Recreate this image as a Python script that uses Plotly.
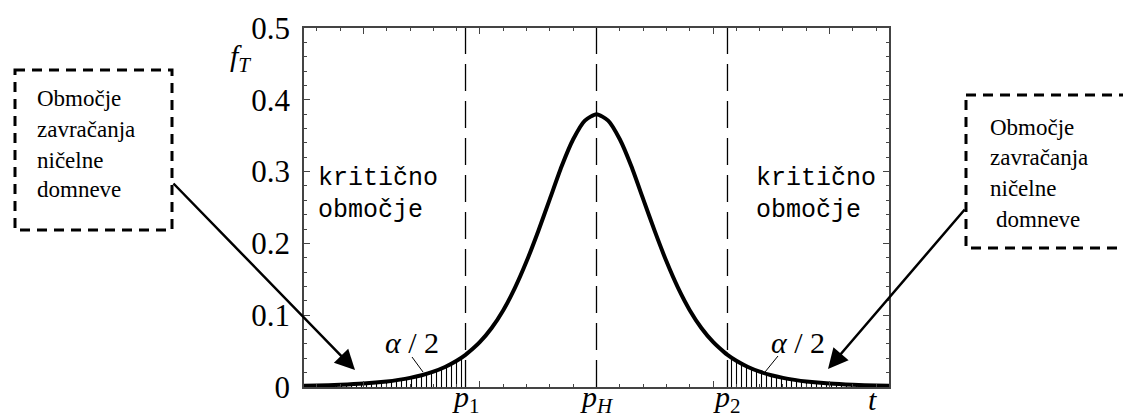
import plotly.graph_objects as go

# ---- data ----
t_vals = [-12.55, -12, -11, -10, -9, -8.5, -8, -7.5, -7, -6.5, -6, -5.62, -5.5, -5, -4.5,
          -4, -3.5, -3, -2.5, -2, -1.5, -1, -0.5, 0,
          0.5, 1, 1.5, 2, 2.5, 3, 3.5, 4, 4.5, 5, 5.5, 5.62, 6, 6.5, 7, 7.5, 8, 8.5, 9,
          10, 11, 12, 12.55]
f_vals = [0.0016, 0.0020, 0.0031, 0.0048, 0.0077, 0.0099, 0.0127, 0.0164, 0.0213, 0.0278,
          0.0365, 0.0448, 0.0479, 0.0628, 0.0822,
          0.107, 0.138, 0.175, 0.217, 0.262, 0.307, 0.345, 0.371, 0.380,
          0.371, 0.345, 0.307, 0.262, 0.217, 0.175, 0.138, 0.107, 0.0822, 0.0628, 0.0479,
          0.0448, 0.0365, 0.0278, 0.0213, 0.0164, 0.0127, 0.0099, 0.0077,
          0.0048, 0.0031, 0.0020, 0.0016]
p_pos = [-5.62, 0, 5.62]
p_labels = ["<i>p</i><sub>1</sub>", "<i>p</i><sub><i>H</i></sub>", "<i>p</i><sub>2</sub>"]
y_ticks = [0, 0.1, 0.2, 0.3, 0.4, 0.5]
y_ticklabels = ["0", "0.1", "0.2", "0.3", "0.4", "0.5"]
x_range = [-12.55, 12.55]
y_range = [0, 0.5]

W, H = 1123, 419
L, R, T, B = 304, 234, 28, 32
PW, PH = W - L - R, H - T - B


def px(x):
    return (x - L) / PW


def py(y):
    return (H - B - y) / PH


fig = go.Figure()

left_x = [x for x in t_vals if x <= p_pos[0]]
left_y = [f for x, f in zip(t_vals, f_vals) if x <= p_pos[0]]
right_x = [x for x in t_vals if x >= p_pos[2]]
right_y = [f for x, f in zip(t_vals, f_vals) if x >= p_pos[2]]

for xs, ys in [(left_x, left_y), (right_x, right_y)]:
    fig.add_trace(go.Scatter(
        x=xs, y=ys, mode="lines", fill="tozeroy", line=dict(width=0, color="black"),
        fillcolor="white",
        fillpattern=dict(shape="|", size=5, solidity=0.22, fgcolor="black", fgopacity=1),
        hoverinfo="skip", showlegend=False))

fig.add_trace(go.Scatter(x=t_vals, y=f_vals, mode="lines", line=dict(color="black", width=4,
                         shape="spline", smoothing=0.6), showlegend=False))

for p in p_pos:
    fig.add_shape(type="line", xref="x", yref="y", x0=p, x1=p, y0=0, y1=0.5,
                  line=dict(color="black", width=1.3, dash="27px,10px"))

ax_col = "#444444"
fig.update_xaxes(range=x_range, showgrid=False, zeroline=False, showline=True, linecolor=ax_col,
                 linewidth=1.5, mirror="allticks", ticks="inside", tick0=0, dtick=5, ticklen=6,
                 tickcolor=ax_col, tickwidth=1.2, showticklabels=False,
                 minor=dict(dtick=1, tick0=0, ticks="inside", ticklen=3, tickcolor=ax_col, tickwidth=1.2))
fig.update_yaxes(range=y_range, showgrid=False, zeroline=False, showline=True, linecolor=ax_col,
                 linewidth=1.5, mirror="allticks", ticks="inside", tickvals=y_ticks,
                 ticktext=y_ticklabels, ticklen=6, tickcolor=ax_col, tickwidth=1.2,
                 ticklabelstandoff=6,
                 tickfont=dict(family="Liberation Serif", size=31, color="black"),
                 minor=dict(dtick=0.02, tick0=0, ticks="inside", ticklen=3, tickcolor=ax_col, tickwidth=1.2))

ann = []


def label(x, y, text, font, xanchor="center", xref="paper"):
    ann.append(dict(x=x, y=y, xref=xref, yref="paper", showarrow=False, text=text, font=font,
                    xanchor=xanchor, yanchor="middle"))


serif = "Liberation Serif"
# axis label f_T and t
label(px(240), py(58), "<i>f</i><sub><i>T</i></sub>", dict(family=serif, size=30, color="black"))
label(px(872), py(399), "<i>t</i>", dict(family=serif, size=30, color="black"))
for p, lab in zip(p_pos, p_labels):
    label(p, py(399), lab, dict(family=serif, size=30, color="black"), xref="x")

# critical region labels
for xx in [316, 754]:
    for yy, s in [(178, "kritično"), (210, "območje")]:
        label(px(xx), py(yy), s, dict(family="Liberation Mono", size=25, color="black"), xanchor="left")

# alpha/2 labels + leaders
for xx, (x0, y0, x1, y1) in [(412, (412, 357, 423, 372)), (798, (778, 356, 765, 372))]:
    label(px(xx), py(342), "<i>α</i> / 2", dict(family=serif, size=30, color="black"))
    fig.add_shape(type="line", xref="paper", yref="paper", x0=px(x0), y0=py(y0), x1=px(x1), y1=py(y1),
                  line=dict(color="black", width=1))

# dashed boxes
fig.add_shape(type="rect", xref="paper", yref="paper", x0=px(15), x1=px(172), y0=py(70), y1=py(230),
              line=dict(color="black", width=3, dash="10px,7px"))
fig.add_shape(type="rect", xref="paper", yref="paper", x0=px(966), x1=px(1135), y0=py(95), y1=py(248),
              line=dict(color="black", width=3, dash="10px,7px"))

box_font = dict(family=serif, size=23, color="black")
for yy, s in [(98, "Območje"), (129, "zavračanja"), (160, "ničelne"), (190, "domneve")]:
    label(px(35), py(yy), s, box_font, xanchor="left")
for xx, yy, s in [(988, 127, "Območje"), (988, 157, "zavračanja"), (988, 188, "ničelne"), (994, 220, "domneve")]:
    label(px(xx), py(yy), s, box_font, xanchor="left")

# arrows
for tip, tail in [((355, 370), (172, 182)), ((828, 369), (966, 208))]:
    ann.append(dict(x=px(tip[0]), y=py(tip[1]), xref="paper", yref="paper", showarrow=True,
                    ax=tail[0] - tip[0], ay=tail[1] - tip[1], axref="pixel", ayref="pixel",
                    arrowhead=2, arrowsize=1.6, arrowwidth=2.5, arrowcolor="black", standoff=0, text=""))

fig.update_layout(width=W, height=H, margin=dict(l=L, r=R, t=T, b=B, autoexpand=False),
                  paper_bgcolor="white", plot_bgcolor="white", annotations=ann, showlegend=False)

fig.write_html("out.html")
